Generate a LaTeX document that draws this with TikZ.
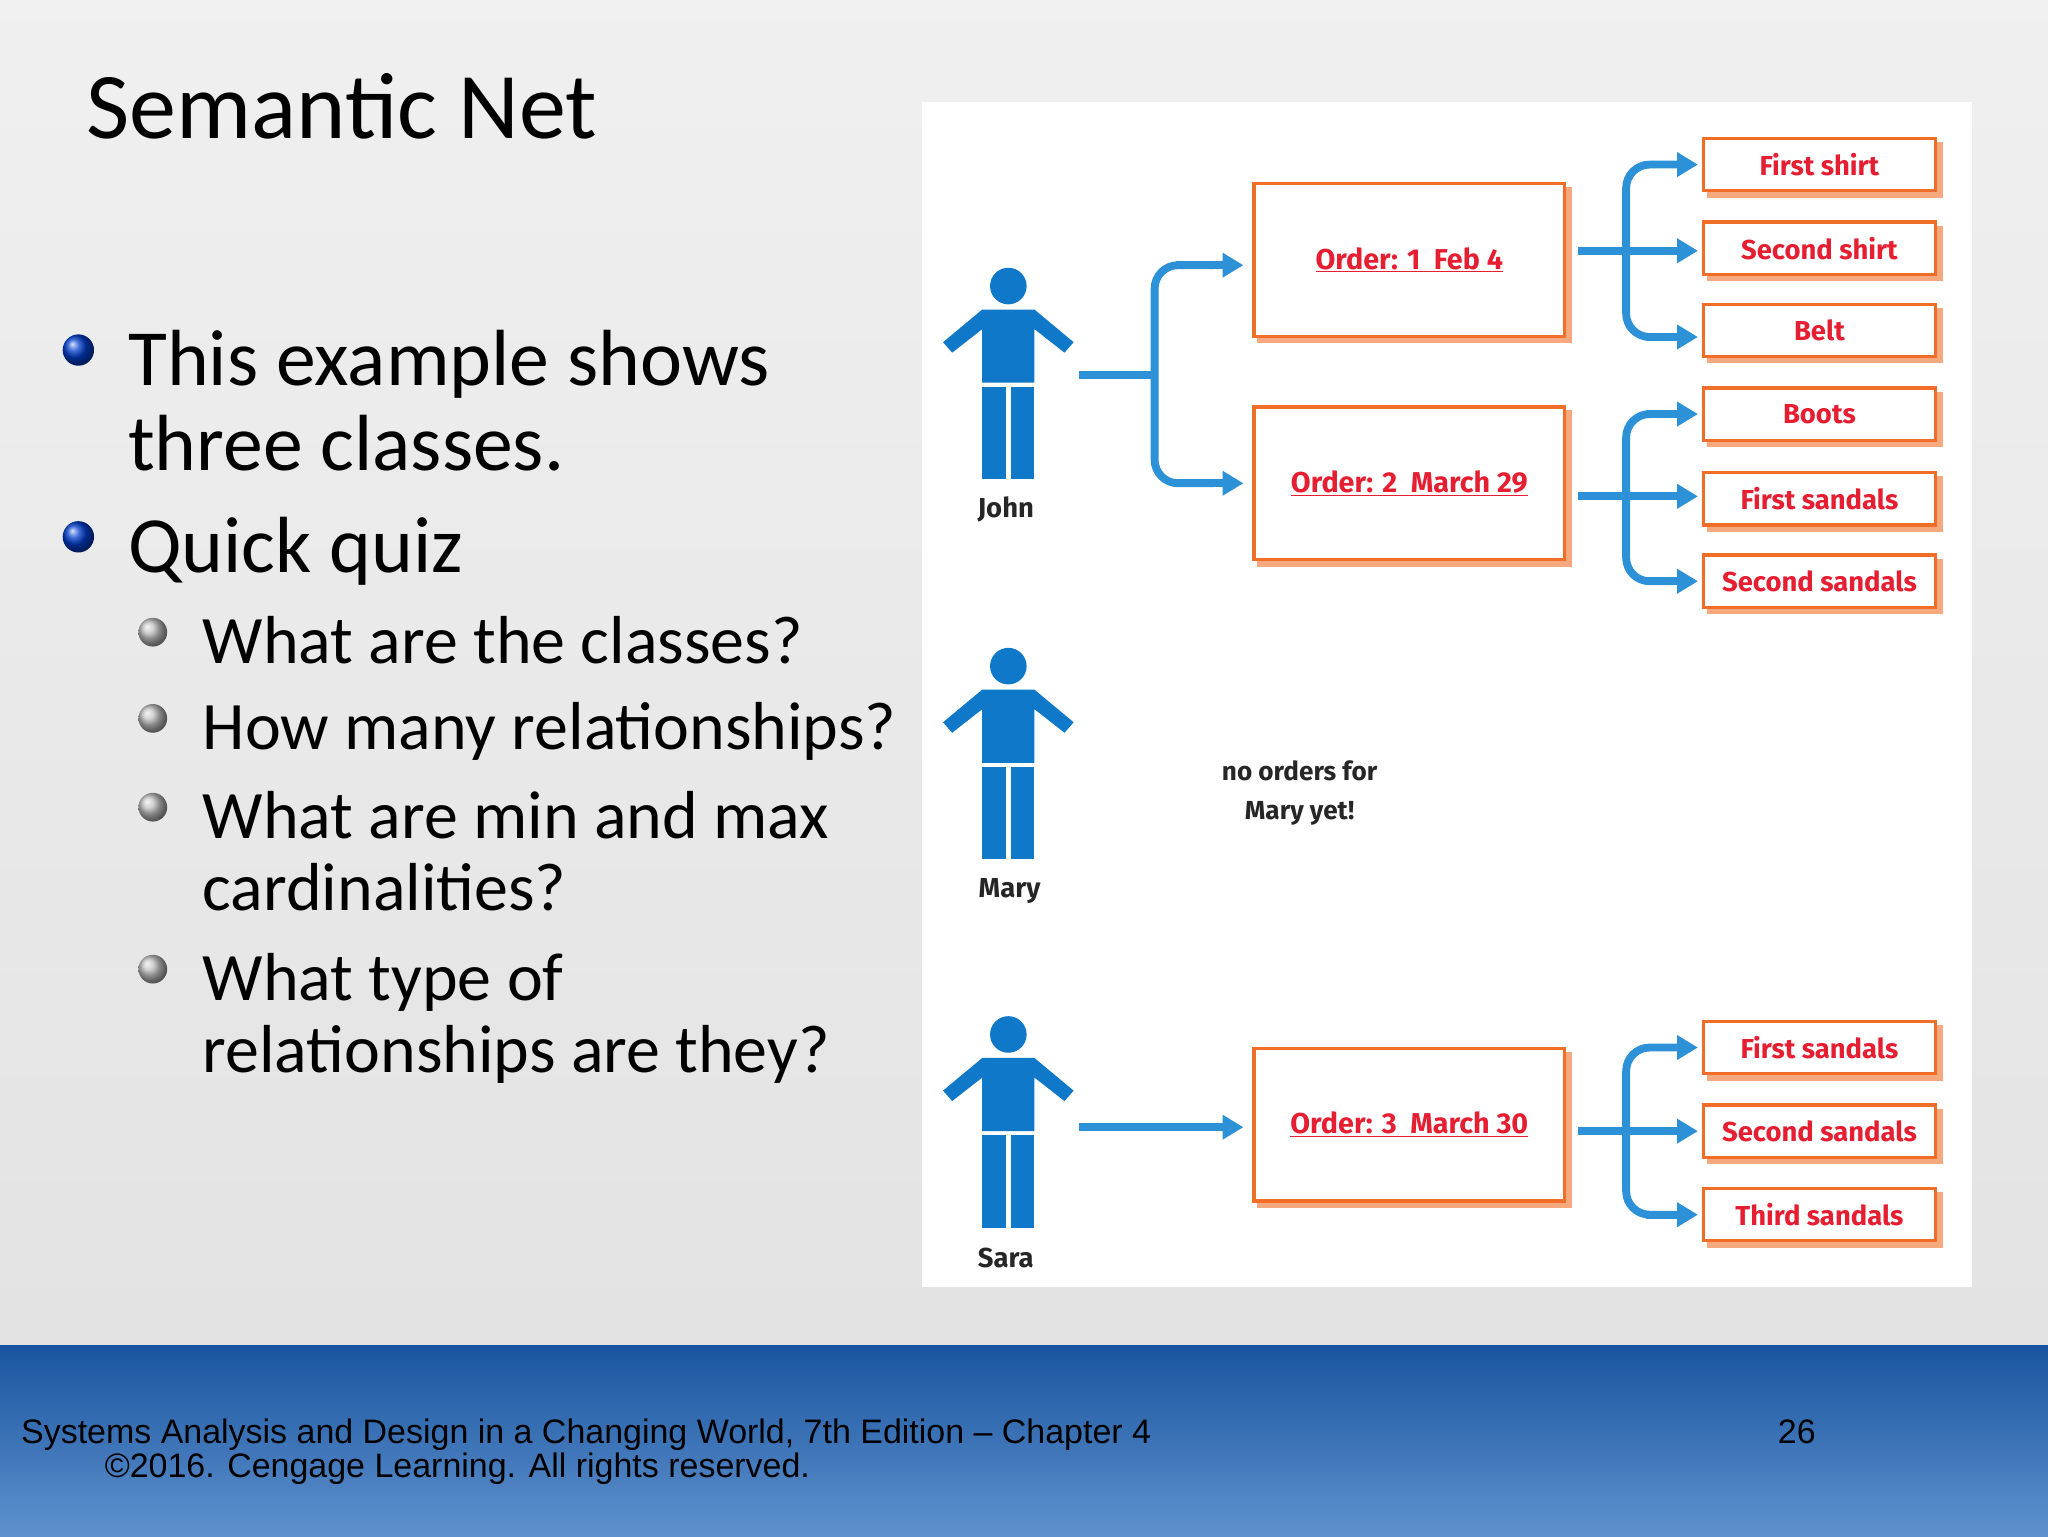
\documentclass[tikz,border=0pt]{standalone}
\usepackage{fontspec}
\setmainfont{Carlito}
\newfontfamily\dinfont{Fira Sans}
\newfontfamily\arialfont{Liberation Sans}
\usetikzlibrary{arrows.meta,shadings}
\definecolor{pblue}{RGB}{16,120,200}
\definecolor{ablue}{RGB}{45,145,215}
\definecolor{bord}{RGB}{240,110,40}
\definecolor{ordred}{RGB}{230,30,50}
\tikzset{
 person/.pic={
  \fill[pblue] (0,-53) circle (14);
  \fill[pblue] (-50,-10) -- (-20,-35) -- (20,-35) -- (50,-10) -- (43,-2) -- (20,-20) -- (20,21) -- (-20,21) -- (-20,-20) -- (-43,-2) -- cycle;
  \fill[pblue] (-20,24) rectangle (-2,95);
  \fill[pblue] (2,24) rectangle (20,95);
 },
 order/.style={draw=bord,line width=2.5pt,fill=white,minimum width=238pt,minimum height=117pt,font=\dinfont\bfseries\fontsize{22}{28}\selectfont\color{ordred}},
 item/.style={draw=bord,line width=2.5pt,fill=white,minimum width=178pt,minimum height=40pt,font=\dinfont\bfseries\fontsize{21}{26}\selectfont\color{ordred}},
 conn/.style={draw=ablue,line width=6pt,rounded corners=18pt},
 arr/.style={conn,-{Triangle[length=16pt,width=18pt]}},
 lbl/.style={font=\dinfont\bfseries\fontsize{21}{26}\selectfont,text=black!85},
 bul1/.style={ball color=blue!70!cyan!80!black,circle,inner sep=0pt,minimum size=24pt},
 bul2/.style={ball color=gray!50,circle,inner sep=0pt,minimum size=22pt},
 t1/.style={anchor=base west,inner sep=0,font=\fontsize{61}{61}\selectfont},
 t2/.style={anchor=base west,inner sep=0,font=\fontsize{52}{52}\selectfont},
}
\newcommand{\shbox}[3]{\fill[bord!60] ([xshift=4pt,yshift=-4pt]#1.south west) rectangle ([xshift=4pt,yshift=-4pt]#1.north east);\node[#2] at (#1) {#3};}
\begin{document}
\begin{tikzpicture}[x=1pt,y=-1pt]
\useasboundingbox (0,0) rectangle (1568,1176);
\shade[top color=gray!12,bottom color=gray!22] (0,0) rectangle (1568,1030);
\shade[top color={rgb,255:red,25;green,85;blue,160},bottom color={rgb,255:red,95;green,145;blue,205}] (0,1030) rectangle (1568,1176);
\node[anchor=base west,font=\fontsize{72}{72}\selectfont,inner sep=0] (title) at (66,106) {Semantic Net};
% bullets
\node[bul1] (b1) at (60,268) {};
\node[t1] (tx1) at (98,295) {This example shows};
\node[t1] (tx1b) at (98,360) {three classes.};
\node[bul1] (b2) at (60,411) {};
\node[t1] (tx2) at (98,438) {Quick quiz};
\node[bul2] (c1) at (117,484) {};
\node[t2] (s1) at (155,508) {What are the classes?};
\node[bul2] (c2) at (117,550) {};
\node[t2] (s2) at (155,574) {How many relationships?};
\node[bul2] (c3) at (117,618) {};
\node[t2] (s3) at (155,642) {What are min and max};
\node[t2] (s3b) at (155,697) {cardinalities?};
\node[bul2] (c4) at (117,742) {};
\node[t2] (s4) at (155,766) {What type of};
\node[t2] (s4b) at (155,821) {relationships are they?};
% panel
\fill[white] (706,78) rectangle (1510,985);
\pic at (772,272) {person};
\pic at (772,563) {person};
\pic at (772,845) {person};
\node[lbl] (john) at (770,390) {John};
\node[lbl] (mary) at (773,682) {Mary};
\node[lbl] (sara) at (770,963) {Sara};
\node[lbl,align=center,font=\dinfont\bfseries\fontsize{20}{30}\selectfont] (nomary) at (995,607) {no orders for\\Mary yet!};
% orders
\node[order] (o1) at (1079,199) {};
\node[order] (o2) at (1079,370) {};
\node[order] (o3) at (1079,861) {};
\shbox{o1}{order}{\underline{Order: 1\ \ Feb 4}}
\shbox{o2}{order}{\underline{Order: 2\ \ March 29}}
\shbox{o3}{order}{\underline{Order: 3\ \ March 30}}
% items
\foreach \n/\y/\t in {i1/126/First shirt,i2/190/Second shirt,i3/253/Belt,i4/317/Boots,i5/382/First sandals,i6/445/Second sandals,i7/802/First sandals,i8/866/Second sandals,i9/930/Third sandals}{
 \node[item] (\n) at (1393,\y) {};
 \shbox{\n}{item}{\t}
}
% John connectors
\coordinate (jc) at (826,287);
\draw[conn] (jc) -- (884,287);
\draw[conn] (930,203) -- (884,203) -- (884,370) -- (930,370);
\draw[arr] (900,203) -- (952,203);
\draw[arr] (900,370) -- (952,370);
\draw[arr] (826,863) -- (952,863);
% item brackets
\foreach \top/\mid/\bot in {126/192/258,317/380/445,802/866/930}{
 \draw[conn] (1208,\mid) -- (1245,\mid);
 \draw[conn] (1290,\top) -- (1245,\top) -- (1245,\bot) -- (1290,\bot);
 \draw[arr] (1260,\top) -- (1300,\top);
 \draw[arr] (1245,\mid) -- (1300,\mid);
 \draw[arr] (1260,\bot) -- (1300,\bot);
}
% footer
\node[anchor=base west,font=\arialfont\fontsize{26}{27}\selectfont,inner sep=0] (f1) at (16,1105) {Systems Analysis and Design in a Changing World, 7th Edition – Chapter 4};
\node[anchor=base west,font=\arialfont\fontsize{26}{27}\selectfont,inner sep=0] (f2) at (80,1131) {©2016. Cengage Learning. All rights reserved.};
\node[anchor=base west,font=\arialfont\fontsize{26}{27}\selectfont,inner sep=0] (pg) at (1361,1105) {26};
\end{tikzpicture}
\end{document}
